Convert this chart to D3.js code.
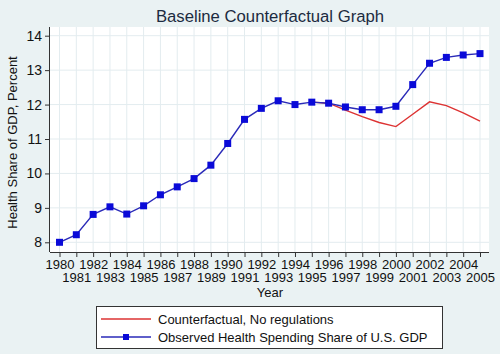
<!DOCTYPE html>
<html>
<head>
<meta charset="utf-8">
<script src="https://cdn.jsdelivr.net/npm/d3@7"></script>
<style>
  body { margin: 0; background: #eaf2f3; }
  svg { display: block; font-family: "Liberation Sans", Arial, sans-serif; }
</style>
</head>
<body>
<div id="chart"></div>
<script>
var years = d3.range(1980, 2006);
var observed = [8.0, 8.22, 8.81, 9.03, 8.82, 9.06, 9.38, 9.61, 9.85, 10.24,
  10.87, 11.57, 11.89, 12.11, 12.0, 12.07, 12.04, 11.93, 11.85, 11.85,
  11.95, 12.58, 13.2, 13.37, 13.44, 13.48];
var cfYears = d3.range(1995, 2006);
var counterfactual = [12.07, 12.04, 11.84, 11.65, 11.48, 11.36, 11.72, 12.08, 11.97, 11.76, 11.52];
var yTicks = [8, 9, 10, 11, 12, 13, 14];
var legendLabels = ["Counterfactual, No regulations", "Observed Health Spending Share of U.S. GDP"];

var width = 500, height = 354;
var plot = { left: 50, right: 489, top: 27, bottom: 252 };

var svg = d3.select("#chart").append("svg")
  .attr("width", width)
  .attr("height", height)

svg.append("rect")
  .attr("width", width).attr("height", height)
  .attr("fill", "#eaf2f3")

svg.append("rect")
  .attr("x", plot.left).attr("y", plot.top)
  .attr("width", plot.right - plot.left)
  .attr("height", plot.bottom - plot.top)
  .attr("fill", "#ffffff")

var x = d3.scaleLinear()
  .domain([1980, 2005])
  .range([59.5, 480])

var y = d3.scaleLinear()
  .domain([8, 14])
  .range([242.3, 35.7])

// grid
svg.append("g").selectAll("line")
  .data(years)
  .enter().append("line")
  .attr("x1", function (d) { return x(d) }).attr("x2", function (d) { return x(d) })
  .attr("y1", plot.top).attr("y2", plot.bottom)
  .attr("stroke", "#e3ecef").attr("stroke-width", 1)

svg.append("g").selectAll("line")
  .data(yTicks)
  .enter().append("line")
  .attr("x1", plot.left).attr("x2", plot.right)
  .attr("y1", function (d) { return y(d) }).attr("y2", function (d) { return y(d) })
  .attr("stroke", "#e3ecef").attr("stroke-width", 1)

// axes
var xAxis = svg.append("g")
  .attr("transform", "translate(0," + plot.bottom + ")")
  .call(d3.axisBottom(x).tickValues(years).tickSize(5).tickSizeOuter(0).tickFormat(d3.format("d")))
xAxis.select(".domain").attr("d", "M" + plot.left + ",0.5H" + plot.right)
xAxis.selectAll("text")
  .attr("font-size", 13)
  .attr("fill", "#111")
  .attr("y", function (d) { return (d % 2 === 0) ? 8 : 21 })
xAxis.selectAll("line, path").attr("stroke", "#333")

var yAxis = svg.append("g")
  .attr("transform", "translate(" + plot.left + ",0)")
  .call(d3.axisLeft(y).tickValues(yTicks).tickSize(5).tickSizeOuter(0).tickFormat(d3.format("d")))
yAxis.select(".domain").attr("d", "M-0.5," + plot.top + "V" + plot.bottom)
yAxis.selectAll("text").attr("font-size", 14).attr("fill", "#111")
yAxis.selectAll("line, path").attr("stroke", "#333")

// titles
svg.append("text")
  .attr("x", 270).attr("y", 22)
  .attr("text-anchor", "middle")
  .attr("font-size", 16.7)
  .attr("fill", "#1c2b3f")
  .text("Baseline Counterfactual Graph")

svg.append("text")
  .attr("x", 270).attr("y", 297)
  .attr("text-anchor", "middle")
  .attr("font-size", 13)
  .attr("fill", "#111")
  .text("Year")

svg.append("text")
  .attr("transform", "translate(17," + ((plot.top + plot.bottom) / 2 + 3) + ") rotate(-90)")
  .attr("text-anchor", "middle")
  .attr("font-size", 13)
  .attr("fill", "#111")
  .text("Health Share of GDP, Percent")

// lines
var line = d3.line()
  .x(function (d) { return x(d[0]) })
  .y(function (d) { return y(d[1]) })

svg.append("path")
  .datum(cfYears.map(function (yr, i) { return [yr, counterfactual[i]] }))
  .attr("d", line)
  .attr("fill", "none")
  .attr("stroke", "#dd3333")
  .attr("stroke-width", 1.4)

svg.append("path")
  .datum(years.map(function (yr, i) { return [yr, observed[i]] }))
  .attr("d", line)
  .attr("fill", "none")
  .attr("stroke", "#2a2ab8")
  .attr("stroke-width", 1.4)

svg.append("g").selectAll("rect")
  .data(years)
  .enter().append("rect")
  .attr("x", function (d) { return x(d) - 3.5 })
  .attr("y", function (d, i) { return y(observed[i]) - 3.5 })
  .attr("width", 7).attr("height", 7)
  .attr("fill", "#0a0ad8")

// legend
svg.append("rect")
  .attr("x", 96.5).attr("y", 306.5)
  .attr("width", 346).attr("height", 42)
  .attr("fill", "#fff").attr("stroke", "#333")

var legendColors = ["#dd3333", "#2a2ab8"];
legendLabels.forEach(function (lbl, i) {
  var ly = 319 + i * 18;
  svg.append("line")
    .attr("x1", 101).attr("x2", 151)
    .attr("y1", ly).attr("y2", ly)
    .attr("stroke", legendColors[i]).attr("stroke-width", 1.4)
  if (i === 1) {
    svg.append("rect")
      .attr("x", 123).attr("y", ly - 3)
      .attr("width", 6).attr("height", 6)
      .attr("fill", "#0a0ad8")
  }
  svg.append("text")
    .attr("x", 158).attr("y", ly + 5)
    .attr("font-size", 13)
    .attr("fill", "#111")
    .text(lbl)
})
</script>
</body>
</html>
